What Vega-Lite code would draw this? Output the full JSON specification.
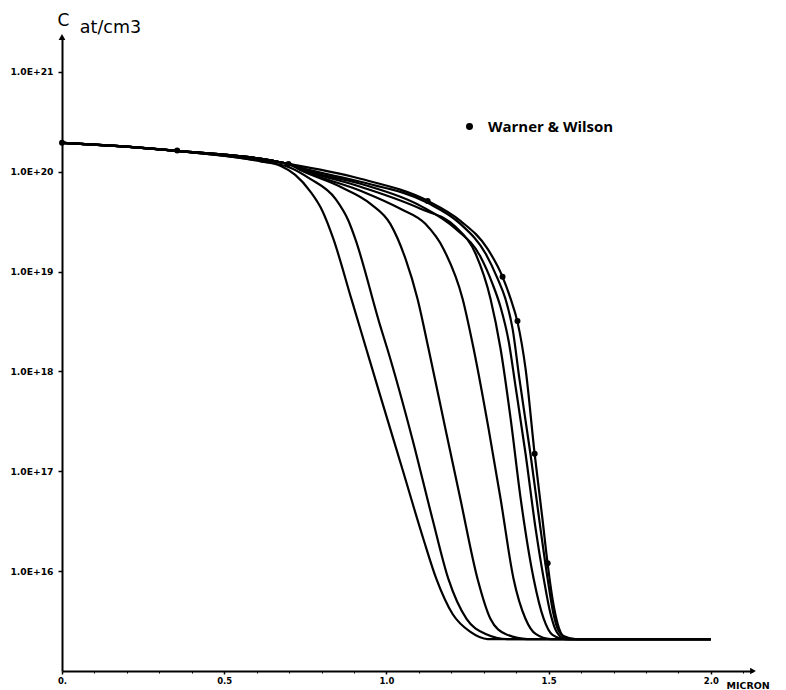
{
  "$schema": "https://vega.github.io/schema/vega-lite/v6.json",
  "width": 691,
  "height": 634,
  "autosize": {"type": "none"},
  "padding": {"left": 62, "top": 37, "right": 33, "bottom": 19},
  "background": "white",
  "config": {"view": {"stroke": null}},
  "resolve": {"axis": {"x": "independent"}},
  "datasets": {
    "curves": [
      {"curve": 1, "x": 0, "c": 1.95e20}, {"curve": 1, "x": 0.03, "c": 1.93e20}, {"curve": 1, "x": 0.355, "c": 1.62e20}, {"curve": 1, "x": 0.611, "c": 1.28e20}, {"curve": 1, "x": 0.673, "c": 1.15e20}, {"curve": 1, "x": 0.719, "c": 9.3e19}, {"curve": 1, "x": 0.765, "c": 6.37e19}, {"curve": 1, "x": 0.802, "c": 4.1e19}, {"curve": 1, "x": 0.836, "c": 2.15e19}, {"curve": 1, "x": 0.892, "c": 5.33e18}, {"curve": 1, "x": 0.938, "c": 1.68e18}, {"curve": 1, "x": 0.984, "c": 5.31e17}, {"curve": 1, "x": 1.049, "c": 1.06e17}, {"curve": 1, "x": 1.114, "c": 2.1e16}, {"curve": 1, "x": 1.154, "c": 8.36e15}, {"curve": 1, "x": 1.204, "c": 3.72e15}, {"curve": 1, "x": 1.259, "c": 2.46e15}, {"curve": 1, "x": 1.312, "c": 2.09e15}, {"curve": 1, "x": 2.0, "c": 2.09e15},
      {"curve": 2, "x": 0, "c": 1.95e20}, {"curve": 2, "x": 0.03, "c": 1.93e20}, {"curve": 2, "x": 0.355, "c": 1.62e20}, {"curve": 2, "x": 0.611, "c": 1.28e20}, {"curve": 2, "x": 0.704, "c": 1.1e20}, {"curve": 2, "x": 0.765, "c": 8.51e19}, {"curve": 2, "x": 0.843, "c": 5.36e19}, {"curve": 2, "x": 0.883, "c": 3.23e19}, {"curve": 2, "x": 0.904, "c": 2.13e19}, {"curve": 2, "x": 0.981, "c": 2.86e18}, {"curve": 2, "x": 1.003, "c": 1.68e18}, {"curve": 2, "x": 1.080, "c": 2.11e17}, {"curve": 2, "x": 1.142, "c": 3.33e16}, {"curve": 2, "x": 1.191, "c": 8.36e15}, {"curve": 2, "x": 1.247, "c": 3.32e15}, {"curve": 2, "x": 1.306, "c": 2.35e15}, {"curve": 2, "x": 1.373, "c": 2.09e15}, {"curve": 2, "x": 2.0, "c": 2.09e15},
      {"curve": 3, "x": 0, "c": 1.95e20}, {"curve": 3, "x": 0.03, "c": 1.93e20}, {"curve": 3, "x": 0.355, "c": 1.62e20}, {"curve": 3, "x": 0.698, "c": 1.2e20}, {"curve": 3, "x": 0.735, "c": 1.04e20}, {"curve": 3, "x": 0.858, "c": 7.08e19}, {"curve": 3, "x": 0.951, "c": 4.78e19}, {"curve": 3, "x": 1.012, "c": 3.01e19}, {"curve": 3, "x": 1.059, "c": 1.34e19}, {"curve": 3, "x": 1.096, "c": 5.33e18}, {"curve": 3, "x": 1.13, "c": 1.68e18}, {"curve": 3, "x": 1.182, "c": 2.66e17}, {"curve": 3, "x": 1.228, "c": 5.28e16}, {"curve": 3, "x": 1.281, "c": 8.36e15}, {"curve": 3, "x": 1.321, "c": 3.32e15}, {"curve": 3, "x": 1.367, "c": 2.35e15}, {"curve": 3, "x": 1.435, "c": 2.09e15}, {"curve": 3, "x": 2.0, "c": 2.09e15},
      {"curve": 4, "x": 0, "c": 1.95e20}, {"curve": 4, "x": 0.03, "c": 1.93e20}, {"curve": 4, "x": 0.355, "c": 1.62e20}, {"curve": 4, "x": 0.698, "c": 1.2e20}, {"curve": 4, "x": 0.735, "c": 1.05e20}, {"curve": 4, "x": 0.92, "c": 6.46e19}, {"curve": 4, "x": 1.043, "c": 4.26e19}, {"curve": 4, "x": 1.12, "c": 3.01e19}, {"curve": 4, "x": 1.176, "c": 1.69e19}, {"curve": 4, "x": 1.235, "c": 5.33e18}, {"curve": 4, "x": 1.269, "c": 1.68e18}, {"curve": 4, "x": 1.315, "c": 2.66e17}, {"curve": 4, "x": 1.352, "c": 5.28e16}, {"curve": 4, "x": 1.392, "c": 8.36e15}, {"curve": 4, "x": 1.429, "c": 3.32e15}, {"curve": 4, "x": 1.46, "c": 2.35e15}, {"curve": 4, "x": 1.506, "c": 2.09e15}, {"curve": 4, "x": 2.0, "c": 2.09e15},
      {"curve": 5, "x": 0, "c": 1.95e20}, {"curve": 5, "x": 0.03, "c": 1.93e20}, {"curve": 5, "x": 0.355, "c": 1.62e20}, {"curve": 5, "x": 0.698, "c": 1.2e20}, {"curve": 5, "x": 0.735, "c": 1.07e20}, {"curve": 5, "x": 0.92, "c": 7.08e19}, {"curve": 5, "x": 1.105, "c": 4.26e19}, {"curve": 5, "x": 1.213, "c": 2.81e19}, {"curve": 5, "x": 1.275, "c": 1.51e19}, {"curve": 5, "x": 1.321, "c": 5.33e18}, {"curve": 5, "x": 1.352, "c": 1.68e18}, {"curve": 5, "x": 1.383, "c": 3.35e17}, {"curve": 5, "x": 1.414, "c": 5.28e16}, {"curve": 5, "x": 1.454, "c": 8.36e15}, {"curve": 5, "x": 1.485, "c": 3.32e15}, {"curve": 5, "x": 1.512, "c": 2.3e15}, {"curve": 5, "x": 1.552, "c": 2.09e15}, {"curve": 5, "x": 2.0, "c": 2.09e15},
      {"curve": 6, "x": 0, "c": 1.95e20}, {"curve": 6, "x": 0.03, "c": 1.93e20}, {"curve": 6, "x": 0.355, "c": 1.62e20}, {"curve": 6, "x": 0.698, "c": 1.2e20}, {"curve": 6, "x": 0.735, "c": 1.07e20}, {"curve": 6, "x": 0.92, "c": 7.59e19}, {"curve": 6, "x": 1.105, "c": 4.56e19}, {"curve": 6, "x": 1.213, "c": 2.69e19}, {"curve": 6, "x": 1.29, "c": 1.41e19}, {"curve": 6, "x": 1.327, "c": 7.55e18}, {"curve": 6, "x": 1.352, "c": 4.4e18}, {"curve": 6, "x": 1.377, "c": 2.0e18}, {"curve": 6, "x": 1.398, "c": 7.1e17}, {"curve": 6, "x": 1.429, "c": 1.49e17}, {"curve": 6, "x": 1.46, "c": 2.65e16}, {"curve": 6, "x": 1.485, "c": 8.36e15}, {"curve": 6, "x": 1.506, "c": 3.72e15}, {"curve": 6, "x": 1.525, "c": 2.46e15}, {"curve": 6, "x": 1.552, "c": 2.09e15}, {"curve": 6, "x": 2.0, "c": 2.09e15},
      {"curve": 7, "x": 0, "c": 1.95e20}, {"curve": 7, "x": 0.03, "c": 1.93e20}, {"curve": 7, "x": 0.355, "c": 1.62e20}, {"curve": 7, "x": 0.698, "c": 1.2e20}, {"curve": 7, "x": 0.735, "c": 1.1e20}, {"curve": 7, "x": 0.92, "c": 7.94e19}, {"curve": 7, "x": 1.127, "c": 4.89e19}, {"curve": 7, "x": 1.228, "c": 3.01e19}, {"curve": 7, "x": 1.306, "c": 1.51e19}, {"curve": 7, "x": 1.343, "c": 8.47e18}, {"curve": 7, "x": 1.367, "c": 5.33e18}, {"curve": 7, "x": 1.389, "c": 2.67e18}, {"curve": 7, "x": 1.410, "c": 8.43e17}, {"curve": 7, "x": 1.444, "c": 1.49e17}, {"curve": 7, "x": 1.475, "c": 2.65e16}, {"curve": 7, "x": 1.497, "c": 8.36e15}, {"curve": 7, "x": 1.515, "c": 3.72e15}, {"curve": 7, "x": 1.531, "c": 2.52e15}, {"curve": 7, "x": 1.562, "c": 2.09e15}, {"curve": 7, "x": 2.0, "c": 2.09e15},
      {"curve": 8, "x": 0, "c": 1.95e20}, {"curve": 8, "x": 0.03, "c": 1.93e20}, {"curve": 8, "x": 0.355, "c": 1.62e20}, {"curve": 8, "x": 0.698, "c": 1.2e20}, {"curve": 8, "x": 0.92, "c": 8.51e19}, {"curve": 8, "x": 1.127, "c": 5.12e19}, {"curve": 8, "x": 1.228, "c": 3.23e19}, {"curve": 8, "x": 1.312, "c": 1.69e19}, {"curve": 8, "x": 1.358, "c": 8.87e18}, {"curve": 8, "x": 1.383, "c": 5.33e18}, {"curve": 8, "x": 1.404, "c": 3.14e18}, {"curve": 8, "x": 1.429, "c": 1.06e18}, {"curve": 8, "x": 1.457, "c": 1.49e17}, {"curve": 8, "x": 1.481, "c": 3.33e16}, {"curve": 8, "x": 1.497, "c": 1.18e16}, {"curve": 8, "x": 1.512, "c": 5.26e15}, {"curve": 8, "x": 1.528, "c": 2.96e15}, {"curve": 8, "x": 1.546, "c": 2.24e15}, {"curve": 8, "x": 1.583, "c": 2.09e15}, {"curve": 8, "x": 2.0, "c": 2.09e15}
    ],
    "ww": [
      {"source": "Warner & Wilson", "x": 0, "c": 1.95e20},
      {"source": "Warner & Wilson", "x": 0.355, "c": 1.63e20},
      {"source": "Warner & Wilson", "x": 0.698, "c": 1.2e20},
      {"source": "Warner & Wilson", "x": 1.127, "c": 5.1e19},
      {"source": "Warner & Wilson", "x": 1.358, "c": 8.9e18},
      {"source": "Warner & Wilson", "x": 1.404, "c": 3.2e18},
      {"source": "Warner & Wilson", "x": 1.457, "c": 1.5e17},
      {"source": "Warner & Wilson", "x": 1.497, "c": 1.2e16}
    ]
  },
  "layer": [
    {
      "data": {"name": "curves"},
      "mark": {"type": "line", "interpolate": "monotone", "color": "black", "strokeWidth": 2.2},
      "encoding": {
        "x": {
          "field": "x", "type": "quantitative",
          "scale": {"domain": [0, 2.13], "nice": false, "zero": false},
          "axis": {
            "orient": "bottom",
            "values": [0, 0.5, 1.0, 1.5, 2.0],
            "labelExpr": "datum.value == 0 ? '0.' : format(datum.value, '.1f')",
            "labelOverlap": false,
            "labelFlush": false,
            "title": "MICRON",
            "titleX": 664, "titleY": 17, "titleAlign": "left", "titleBaseline": "alphabetic",
            "titleFont": "DejaVu Sans", "titleFontSize": 9.5, "titleFontWeight": "bold", "titleColor": "black",
            "grid": false, "domainColor": "black", "domainWidth": 2,
            "tickColor": "black", "tickSize": 3, "tickWidth": 1.5,
            "labelFont": "DejaVu Sans", "labelFontWeight": "bold", "labelFontSize": 8.5, "labelColor": "black", "labelPadding": 2
          }
        },
        "y": {
          "field": "c", "type": "quantitative",
          "scale": {"type": "log", "domain": [1e15, 2.24e21], "nice": false},
          "axis": {
            "values": [1e16, 1e17, 1e18, 1e19, 1e20, 1e21],
            "labelExpr": "'1.0E+' + round(log(datum.value) / LN10)",
            "labelOverlap": false,
            "title": "C", "titleAngle": 0, "titleX": 1, "titleY": -12, "titleAlign": "center", "titleBaseline": "alphabetic",
            "titleFont": "DejaVu Sans", "titleFontSize": 17, "titleFontWeight": "normal", "titleColor": "black",
            "grid": false, "domainColor": "black", "domainWidth": 2,
            "tickColor": "black", "tickSize": 4, "tickWidth": 1.5,
            "labelFont": "DejaVu Sans", "labelFontWeight": "bold", "labelFontSize": 9.2, "labelColor": "black", "labelPadding": 5
          }
        },
        "detail": {"field": "curve", "type": "nominal"}
      }
    },
    {
      "data": {"name": "ww"},
      "mark": {"type": "point", "filled": true, "size": 36, "opacity": 1},
      "encoding": {
        "x": {
          "field": "x", "type": "quantitative",
          "axis": {
            "orient": "bottom", "offset": 0,
            "values": [0.1, 0.2, 0.3, 0.4, 0.6, 0.7, 0.8, 0.9, 1.1, 1.2, 1.3, 1.4, 1.6, 1.7, 1.8, 1.9, 2.1],
            "labels": false, "domain": false, "title": null, "grid": false,
            "tickColor": "black", "tickSize": 2, "tickWidth": 1
          }
        },
        "y": {"field": "c", "type": "quantitative"},
        "color": {
          "field": "source", "type": "nominal",
          "scale": {"range": ["black"]},
          "legend": {
            "orient": "none", "legendX": 400, "legendY": 82, "title": null, "padding": 0,
            "symbolType": "circle", "symbolSize": 30, "symbolFillColor": "black", "symbolStrokeColor": "black", "symbolOpacity": 1,
            "labelFont": "Open Sans", "labelFontSize": 15, "labelFontWeight": "bold", "labelColor": "black", "labelOffset": 11
          }
        }
      }
    },
    {
      "data": {"values": [{}]},
      "mark": {"type": "point", "shape": "triangle-up", "filled": true, "size": 45, "color": "black", "opacity": 1},
      "encoding": {"x": {"datum": 0, "type": "quantitative", "axis": null}, "y": {"datum": 2.24e21, "type": "quantitative"}}
    },
    {
      "data": {"values": [{}]},
      "mark": {"type": "point", "shape": "triangle-right", "filled": true, "size": 45, "color": "black", "opacity": 1},
      "encoding": {"x": {"datum": 2.13, "type": "quantitative", "axis": null}, "y": {"datum": 1e15, "type": "quantitative"}}
    },
    {
      "data": {"values": [{}]},
      "mark": {"type": "text", "text": "at/cm3", "align": "left", "baseline": "alphabetic", "font": "DejaVu Sans", "fontSize": 17.5, "color": "black"},
      "encoding": {"x": {"datum": 0.055, "type": "quantitative", "axis": null}, "y": {"datum": 2.47e21, "type": "quantitative"}}
    }
  ]
}
